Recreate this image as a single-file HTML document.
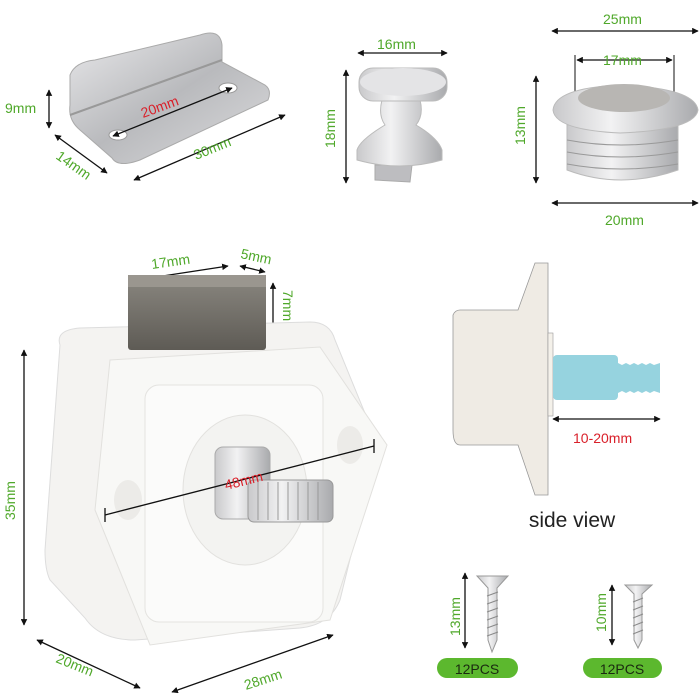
<!DOCTYPE html>
<html><head><meta charset="utf-8"><style>
html,body{margin:0;padding:0;background:#fff;}
svg{display:block;font-family:"Liberation Sans",sans-serif;}
.g{fill:#4fa82a;font-size:14px;}
.r{fill:#d9202a;font-size:14px;}
</style></head><body>
<svg width="700" height="700" viewBox="0 0 700 700">
<defs>
<marker id="a" viewBox="0 0 10 10" refX="9" refY="5" markerWidth="5" markerHeight="5" orient="auto-start-reverse"><path d="M0,0L10,5L0,10z" fill="#111"/></marker>
<linearGradient id="met" x1="0" y1="0" x2="1" y2="1"><stop offset="0" stop-color="#e8e8ea"/><stop offset=".5" stop-color="#b9babd"/><stop offset="1" stop-color="#dcdcde"/></linearGradient>
<linearGradient id="met2" x1="0" y1="0" x2="1" y2="0"><stop offset="0" stop-color="#c9c9cb"/><stop offset=".4" stop-color="#f2f2f3"/><stop offset="1" stop-color="#a9aaad"/></linearGradient>
<linearGradient id="blk" x1="0" y1="0" x2="0" y2="1"><stop offset="0" stop-color="#8a8780"/><stop offset="1" stop-color="#5e5b55"/></linearGradient>
</defs>
<g stroke="#111" stroke-width="1.3" fill="none">
<line x1="49" y1="90" x2="49" y2="128" marker-start="url(#a)" marker-end="url(#a)"/>
<line x1="55" y1="135" x2="107" y2="173" marker-start="url(#a)" marker-end="url(#a)"/>
<line x1="134" y1="180" x2="285" y2="115" marker-start="url(#a)" marker-end="url(#a)"/>
<line x1="358" y1="53" x2="447" y2="53" marker-start="url(#a)" marker-end="url(#a)"/>
<line x1="346" y1="70" x2="346" y2="183" marker-start="url(#a)" marker-end="url(#a)"/>
<line x1="552" y1="31" x2="698" y2="31" marker-start="url(#a)" marker-end="url(#a)"/>
<line x1="577" y1="60" x2="672" y2="60" marker-start="url(#a)" marker-end="url(#a)"/>
<line x1="536" y1="76" x2="536" y2="183" marker-start="url(#a)" marker-end="url(#a)"/>
<line x1="552" y1="203" x2="698" y2="203" marker-start="url(#a)" marker-end="url(#a)"/>
<line x1="575" y1="55" x2="575" y2="92" stroke-width="1"/><line x1="674" y1="55" x2="674" y2="92" stroke-width="1"/>
<line x1="130" y1="281" x2="228" y2="266" marker-start="url(#a)" marker-end="url(#a)"/>
<line x1="240" y1="266" x2="265" y2="272" marker-start="url(#a)" marker-end="url(#a)"/>
<line x1="273" y1="283" x2="273" y2="330" marker-start="url(#a)" marker-end="url(#a)"/>
<line x1="24" y1="350" x2="24" y2="625" marker-start="url(#a)" marker-end="url(#a)"/>
<line x1="37" y1="640" x2="140" y2="688" marker-start="url(#a)" marker-end="url(#a)"/>
<line x1="172" y1="692" x2="333" y2="635" marker-start="url(#a)" marker-end="url(#a)"/>
<line x1="553" y1="419" x2="660" y2="419" marker-start="url(#a)" marker-end="url(#a)"/>
<line x1="465" y1="573" x2="465" y2="648" marker-start="url(#a)" marker-end="url(#a)"/>
<line x1="612" y1="585" x2="612" y2="645" marker-start="url(#a)" marker-end="url(#a)"/>
</g>
<!-- bracket -->
<path d="M70,75 Q75,62 95,60 L200,35 Q220,28 222,45 L222,62 L265,85 Q272,90 268,100 L140,160 Q118,168 112,158 L80,130 Q68,120 70,105 Z" fill="url(#met)" stroke="#aaa"/>
<path d="M70,115 L222,60" stroke="#999" stroke-width="2"/>
<ellipse cx="118" cy="135" rx="9" ry="5" fill="#fff" stroke="#999"/>
<ellipse cx="228" cy="88" rx="9" ry="5" fill="#fff" stroke="#999"/>
<line x1="113" y1="136" x2="232" y2="88" stroke="#111" stroke-width="1.3" marker-start="url(#a)" marker-end="url(#a)"/>
<!-- knob -->
<path d="M375,165 L375,180 L410,182 L412,165 Z" fill="#bdbdc0" stroke="#aaa"/>
<path d="M382,100 Q378,115 385,125 Q360,140 357,150 L357,160 Q400,172 442,160 L442,150 Q438,138 416,125 Q424,115 420,100 Z" fill="url(#met2)" stroke="#bbb"/>
<rect x="359" y="68" width="88" height="33" rx="14" fill="url(#met2)" stroke="#bbb"/>
<ellipse cx="403" cy="82" rx="43" ry="14" fill="#e4e4e6"/>
<!-- ring -->
<path d="M567,125 L567,170 Q620,190 678,170 L678,125 Z" fill="url(#met2)" stroke="#bbb"/>
<g stroke="#999" fill="none"><path d="M567,140 Q620,150 678,140"/><path d="M567,152 Q620,162 678,152"/><path d="M567,164 Q620,174 678,164"/></g>
<path d="M553,110 Q555,88 620,85 Q695,88 698,110 Q695,130 620,133 Q555,130 553,110 Z" fill="url(#met2)" stroke="#bbb"/>
<ellipse cx="624" cy="98" rx="46" ry="14" fill="#b8b6b3"/>
<!-- latch -->
<path d="M60,345 Q55,330 80,328 L310,322 Q330,322 335,340 L378,445 L340,600 Q330,625 300,628 L135,640 Q100,640 85,618 L50,580 Q45,570 45,550 Z" fill="#f4f3f1" stroke="#ddd"/>
<rect x="128" y="275" width="138" height="75" rx="3" fill="url(#blk)"/>
<rect x="128" y="275" width="138" height="12" fill="#9a968f"/>
<path d="M110,360 L320,347 L387,445 L330,620 L150,645 L95,510 Z" fill="#f8f8f6" stroke="#e2e1de"/>
<rect x="145" y="385" width="178" height="237" rx="14" fill="#fbfbfa" stroke="#e4e3e0"/>
<ellipse cx="245" cy="490" rx="62" ry="75" fill="#f3f3f1" stroke="#e2e1de"/>
<ellipse cx="128" cy="500" rx="14" ry="20" fill="#ecebe8"/>
<ellipse cx="350" cy="445" rx="13" ry="19" fill="#ecebe8"/>
<rect x="215" y="447" width="55" height="72" rx="8" fill="url(#met2)" stroke="#aaa"/>
<rect x="248" y="480" width="85" height="42" rx="6" fill="url(#met2)" stroke="#999"/>
<g stroke="#999"><line x1="258" y1="482" x2="258" y2="520"/><line x1="268" y1="482" x2="268" y2="520"/><line x1="278" y1="482" x2="278" y2="520"/><line x1="288" y1="482" x2="288" y2="520"/><line x1="298" y1="482" x2="298" y2="520"/><line x1="308" y1="482" x2="308" y2="520"/><line x1="318" y1="482" x2="318" y2="520"/></g>
<line x1="105" y1="515" x2="374" y2="446" stroke="#111" stroke-width="1.3"/>
<line x1="105" y1="508" x2="105" y2="522" stroke="#111" stroke-width="1.3"/><line x1="374" y1="439" x2="374" y2="453" stroke="#111" stroke-width="1.3"/>
<!-- side view -->
<path d="M453,315 Q455,310 460,310 L518,310 L535,263 L548,263 L548,495 L535,495 L518,445 L460,445 Q453,445 453,430 Z" fill="#efebe4" stroke="#999" stroke-width=".8"/>
<rect x="548" y="333" width="5" height="83" fill="#f4f1ea" stroke="#999" stroke-width=".6"/>
<rect x="553" y="355" width="65" height="45" rx="4" fill="#96d3df"/>
<path d="M618,363 L622,365 L626,363 L630,365 L634,363 L638,365 L642,363 L646,365 L650,363 L654,365 L660,363 L660,393 L654,391 L650,393 L646,391 L642,393 L638,391 L634,393 L630,391 L626,393 L622,391 L618,393 Z" fill="#96d3df"/>
<!-- screws -->
<path d="M477,576 L508,576 L497,588 L497,640 L492,652 L488,640 L488,588 Z" fill="url(#met2)" stroke="#999"/>
<g stroke="#888"><line x1="487" y1="596" x2="498" y2="592"/><line x1="487" y1="604" x2="498" y2="600"/><line x1="487" y1="612" x2="498" y2="608"/><line x1="487" y1="620" x2="498" y2="616"/><line x1="487" y1="628" x2="498" y2="624"/><line x1="487" y1="636" x2="498" y2="632"/></g>
<path d="M625,585 L652,585 L642,594 L642,640 L638,648 L634,640 L634,594 Z" fill="url(#met2)" stroke="#999"/>
<g stroke="#888"><line x1="633" y1="602" x2="643" y2="598"/><line x1="633" y1="610" x2="643" y2="606"/><line x1="633" y1="618" x2="643" y2="614"/><line x1="633" y1="626" x2="643" y2="622"/><line x1="633" y1="634" x2="643" y2="630"/></g>
<rect x="437" y="658" width="81" height="20" rx="10" fill="#5cb82e"/>
<rect x="583" y="658" width="79" height="20" rx="10" fill="#5cb82e"/>
<text x="477" y="674" text-anchor="middle" font-size="14" fill="#1a2a10">12PCS</text>
<text x="622" y="674" text-anchor="middle" font-size="14" fill="#1a2a10">12PCS</text>
<!-- labels -->
<text class="g" x="5" y="113">9mm</text>
<text class="g" transform="translate(55,158) rotate(35)">14mm</text>
<text class="g" transform="translate(196,160) rotate(-22)">30mm</text>
<text class="r" transform="translate(143,118) rotate(-20)">20mm</text>
<text class="g" x="377" y="49">16mm</text>
<text class="g" transform="translate(335,148) rotate(-90)">18mm</text>
<text class="g" x="603" y="24">25mm</text>
<text class="g" x="603" y="65">17mm</text>
<text class="g" transform="translate(525,145) rotate(-90)">13mm</text>
<text class="g" x="605" y="225">20mm</text>
<text class="g" transform="translate(152,269) rotate(-8)">17mm</text>
<text class="g" transform="translate(240,258) rotate(12)">5mm</text>
<text class="g" transform="translate(283,290) rotate(90)">7mm</text>
<text class="g" transform="translate(15,520) rotate(-90)">35mm</text>
<text class="r" transform="translate(226,490) rotate(-14)">48mm</text>
<text class="g" transform="translate(55,662) rotate(22)">20mm</text>
<text class="g" transform="translate(246,690) rotate(-18)">28mm</text>
<text class="r" x="573" y="443">10-20mm</text>
<text x="572" y="527" text-anchor="middle" font-size="21" fill="#222">side view</text>
<text class="g" transform="translate(460,636) rotate(-90)">13mm</text>
<text class="g" transform="translate(606,632) rotate(-90)">10mm</text>
</svg>
</body></html>
